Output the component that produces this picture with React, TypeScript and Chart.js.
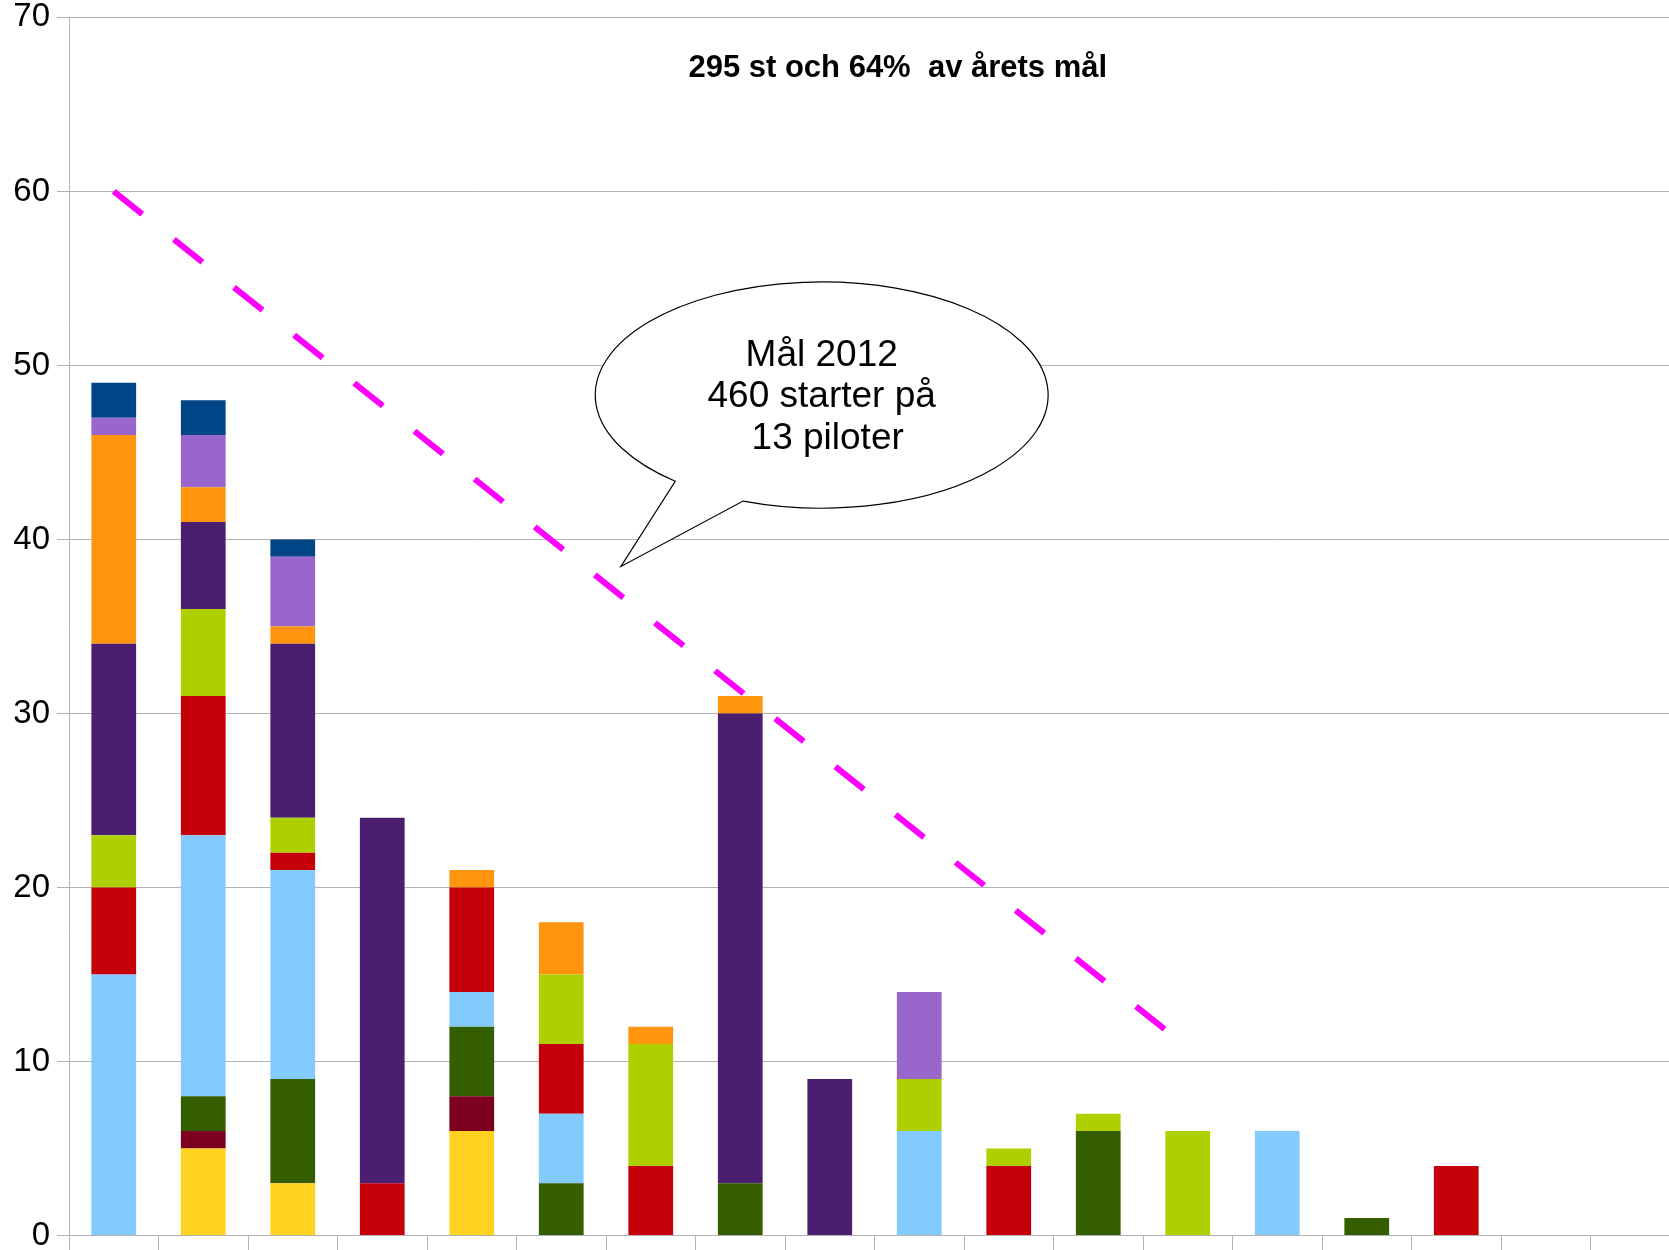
import React, { useEffect, useRef } from 'react';
import { Chart, registerables } from 'chart.js';

Chart.register(...registerables);

// ---- Data ----
const categories = ['1', '2', '3', '4', '5', '6', '7', '8', '9', '10', '11', '12', '13', '14', '15', '16', '17', '18'];

const seriesNames = ['Serie 1', 'Serie 2', 'Serie 3', 'Serie 4', 'Serie 5', 'Serie 6', 'Serie 7', 'Serie 8', 'Serie 9', 'Serie 10'];

const serieYellow = [0, 5, 3, 0, 6, 0, 0, 0, 0, 0, 0, 0, 0, 0, 0, 0, 0, 0];
const serieDarkRed = [0, 1, 0, 0, 2, 0, 0, 0, 0, 0, 0, 0, 0, 0, 0, 0, 0, 0];
const serieDarkGreen = [0, 2, 6, 0, 4, 3, 0, 3, 0, 0, 0, 6, 0, 0, 1, 0, 0, 0];
const serieLightBlue = [15, 15, 12, 0, 2, 4, 0, 0, 0, 6, 0, 0, 0, 6, 0, 0, 0, 0];
const serieRed = [5, 8, 1, 3, 6, 4, 4, 0, 0, 0, 4, 0, 0, 0, 0, 4, 0, 0];
const serieLime = [3, 5, 2, 0, 0, 4, 7, 0, 0, 3, 1, 1, 6, 0, 0, 0, 0, 0];
const seriePurple = [11, 5, 10, 21, 0, 0, 0, 27, 9, 0, 0, 0, 0, 0, 0, 0, 0, 0];
const serieOrange = [12, 2, 1, 0, 1, 3, 1, 1, 0, 0, 0, 0, 0, 0, 0, 0, 0, 0];
const serieLavender = [1, 3, 4, 0, 0, 0, 0, 0, 0, 5, 0, 0, 0, 0, 0, 0, 0, 0];
const serieNavy = [2, 2, 1, 0, 0, 0, 0, 0, 0, 0, 0, 0, 0, 0, 0, 0, 0, 0];

const seriesValues = [
  serieYellow, serieDarkRed, serieDarkGreen, serieLightBlue, serieRed,
  serieLime, seriePurple, serieOrange, serieLavender, serieNavy,
];
const seriesColors = [
  '#ffd320', '#7e0021', '#355e00', '#83caff', '#c5000b',
  '#aecf00', '#4b1f6f', '#ff950e', '#9966cc', '#004586',
];

const yMin = 0;
const yMax = 70;
const yStep = 10;

// Goal line (dashed): 60 at pilot 1 down to 10.8 at pilot 13
const goalLine = [60, null, null, null, null, null, null, null, null, null, null, null, 10.8, null, null, null, null, null];

const chartTitle = '295 st och 64%  av årets mål';
const bubbleLines = ['Mål 2012', '460 starter på', '13 piloter'];

const FONT = '"Liberation Sans", Arial, Helvetica, sans-serif';

const overlayPlugin = {
  id: 'overlay',
  afterDatasetsDraw(chart: any) {
    const ctx: CanvasRenderingContext2D = chart.ctx;
    const xs = chart.scales.x;
    const ys = chart.scales.y;
    ctx.save();

    // Title
    ctx.font = `bold 31px ${FONT}`;
    ctx.fillStyle = '#000';
    ctx.textAlign = 'center';
    ctx.textBaseline = 'alphabetic';
    ctx.fillText(chartTitle, xs.getPixelForValue(8.76), ys.getPixelForValue(66.6));

    // Speech bubble
    const cx = xs.getPixelForValue(7.91);
    const cy = ys.getPixelForValue(48.3);
    const rx = xs.getPixelForValue(7.91 + 2.53) - cx;
    const ry = cy - ys.getPixelForValue(48.3 + 6.5);
    const tipX = xs.getPixelForValue(5.667);
    const tipY = ys.getPixelForValue(38.45);
    const a1 = (130.3 * Math.PI) / 180;
    const a2 = (110.3 * Math.PI) / 180;
    ctx.beginPath();
    ctx.ellipse(cx, cy, rx, ry, 0, a1, a2, false);
    ctx.lineTo(tipX, tipY);
    ctx.closePath();
    ctx.fillStyle = '#ffffff';
    ctx.fill();
    ctx.lineWidth = 1.2;
    ctx.strokeStyle = '#000';
    ctx.stroke();

    ctx.font = `37px ${FONT}`;
    ctx.fillStyle = '#000';
    ctx.textAlign = 'center';
    const dy = [-29, 12, 54];
    const dx = [0, 0, 6];
    bubbleLines.forEach((line, i) => {
      ctx.fillText(line, cx + dx[i], cy + dy[i]);
    });

    ctx.restore();
  },
};

export default function App() {
  const canvasRef = useRef<HTMLCanvasElement | null>(null);

  useEffect(() => {
    const canvas = canvasRef.current;
    if (!canvas) return;

    const barDatasets = seriesValues.map((vals, i) => ({
      type: 'bar' as const,
      label: seriesNames[i],
      data: vals,
      backgroundColor: seriesColors[i],
      borderWidth: 0,
      order: 1,
      stack: 'bars',
      grouped: false,
      categoryPercentage: 0.5,
      barPercentage: 1,
    }));

    const chart = new Chart(canvas, {
      type: 'bar',
      data: {
        labels: categories,
        datasets: [
          ...barDatasets,
          {
            type: 'line' as const,
            label: 'Mål',
            data: goalLine,
            borderColor: '#ff00ff',
            borderWidth: 6,
            borderDash: [36.5, 40.4],
            borderCapStyle: 'butt',
            pointRadius: 0,
            fill: false,
            spanGaps: true,
            order: 0,
            stack: 'goal',
            tension: 0,
          } as any,
        ],
      },
      options: {
        responsive: false,
        animation: false,
        devicePixelRatio: 1,
        layout: { padding: { top: 17.4, right: 10, left: 0, bottom: 0 } },
        plugins: {
          legend: { display: false },
          tooltip: { enabled: false },
          title: { display: false },
        },
        scales: {
          x: {
            type: 'category',
            stacked: true,
            offset: true,
            grid: {
              offset: true,
              drawOnChartArea: false,
              drawTicks: true,
              tickLength: 15,
              color: '#b3b3b3',
              lineWidth: 1,
            },
            border: { display: true, color: '#b3b3b3', width: 1 },
            ticks: { display: false },
            afterFit: (s: any) => {
              s.height = 14.5;
            },
          },
          y: {
            stacked: true,
            min: yMin,
            max: yMax,
            ticks: {
              stepSize: yStep,
              color: '#000',
              padding: 7,
              font: { family: FONT, size: 33, lineHeight: 1.0 },
            },
            grid: { color: '#b3b3b3', tickLength: 12, lineWidth: 1 },
            border: { display: true, color: '#b3b3b3', width: 1 },
            afterFit: (s: any) => {
              s.width = 69;
              s.paddingTop = 0;
              s.paddingBottom = 0;
            },
          },
        } as any,
      },
      plugins: [overlayPlugin],
    });

    return () => {
      chart.destroy();
    };
  }, []);

  return (
    <div
      style={{
        position: 'fixed',
        left: 0,
        top: 0,
        width: 1669,
        height: 1250,
        overflow: 'hidden',
        background: '#ffffff',
      }}
    >
      <canvas
        ref={canvasRef}
        width={1690}
        height={1250}
        style={{ display: 'block', width: 1690, height: 1250 }}
      />
    </div>
  );
}
